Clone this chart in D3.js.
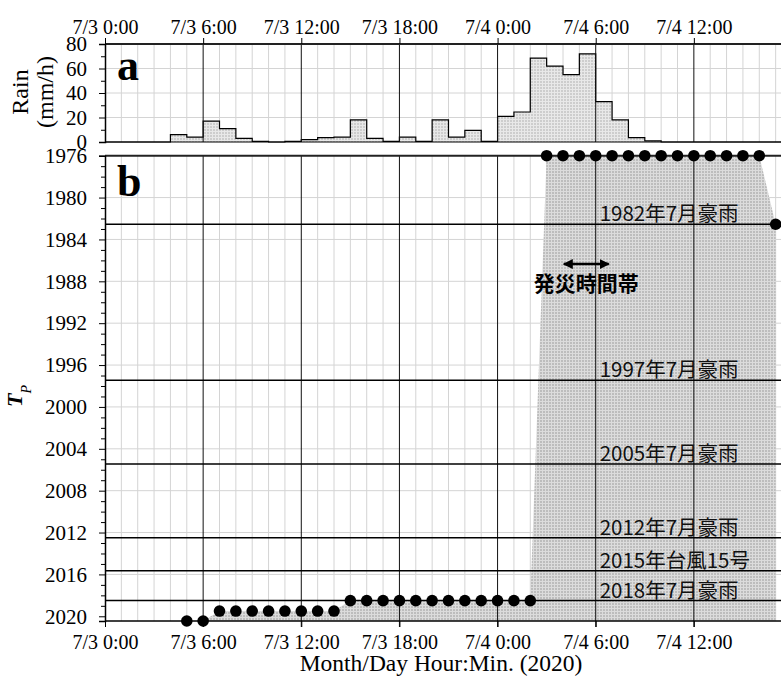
<!DOCTYPE html>
<html>
<head>
<meta charset="utf-8">
<script src="https://cdn.jsdelivr.net/npm/d3@7"></script>
<style>
  html, body { margin: 0; padding: 0; background: #fff; }
  svg { display: block; }
</style>
</head>
<body>
<svg id="chart" width="781" height="679"></svg>
<script>
// ---------------- data ----------------
const rainHours = [0,1,2,3,4,5,6,7,8,9,10,11,12,13,14,15,16,17,18,19,20,21,22,23,24,25,26,27,28,29,30,31,32,33,34,35,36,37,38,39,40,41];
const rainValues = [0,0,0,0,6,4,17,11,3,0.5,0,0.5,2,3.5,4,18,3,0.5,4,0.5,18,4,9.5,0.5,21,24.5,68.5,62,55,72,33,18,3.5,1,0,0,0,0,0,0,0,0];

const tpHours = [5,6,7,8,9,10,11,12,13,14,15,16,17,18,19,20,21,22,23,24,25,26,27,28,29,30,31,32,33,34,35,36,37,38,39,40,41];
const tpValues = [2020.45,2020.45,
  2019.5,2019.5,2019.5,2019.5,2019.5,2019.5,2019.5,2019.5,
  2018.5,2018.5,2018.5,2018.5,2018.5,2018.5,2018.5,2018.5,2018.5,2018.5,2018.5,2018.5,
  1976,1976,1976,1976,1976,1976,1976,1976,1976,1976,1976,1976,1976,1976,
  1982.55];

const timeTickHours = [0,6,12,18,24,30,36];
const timeTickLabels = ["7/3 0:00","7/3 6:00","7/3 12:00","7/3 18:00","7/4 0:00","7/4 6:00","7/4 12:00"];
const rainTicks = [0,20,40,60,80];
const rainMinorTicks = [10,30,50,70];
const yearTicks = [1976,1980,1984,1988,1992,1996,2000,2004,2008,2012,2016,2020];

const eventNames = ["1982年7月豪雨","1997年7月豪雨","2005年7月豪雨","2012年7月豪雨","2015年台風15号","2018年7月豪雨"];
const eventYears = [1982.55,1997.45,2005.45,2012.5,2015.65,2018.5];

const disasterLabel = "発災時間帯";
const disasterFrom = 28.05, disasterTo = 30.8, disasterYear = 1986.35;

// ---------------- layout ----------------
const svg = d3.select("#chart");
const serif = "'Liberation Serif','Times New Roman',serif";
const cjk = "'Noto Sans CJK JP','Noto Sans',sans-serif";
const L = 105, R = 792;
const aTop = 44, aBot = 142;
const bTop = 155.7, bBot = 621;

const x = d3.scaleLinear().domain([0, 42]).range([L, R]);
const yA = d3.scaleLinear().domain([0, 80]).range([aBot, aTop]);
const yB = d3.scaleLinear().domain([1976, 2020.45]).range([bTop, bBot]);

svg.append("rect").attr("width", 781).attr("height", 679).attr("fill", "#fff");

// pattern
const defs = svg.append("defs");
const pat = defs.append("pattern").attr("id", "dots").attr("width", 3).attr("height", 3)
  .attr("patternUnits", "userSpaceOnUse");
pat.append("rect").attr("width", 3).attr("height", 3).attr("fill", "#bdbdbd");
pat.append("rect").attr("x", 0).attr("y", 2).attr("width", 3).attr("height", 1).attr("fill", "#dcdcdc");
pat.append("rect").attr("x", 2).attr("y", 0).attr("width", 1).attr("height", 3).attr("fill", "#dcdcdc");

const patA = defs.append("pattern").attr("id", "dotsA").attr("width", 3).attr("height", 3)
  .attr("patternUnits", "userSpaceOnUse");
patA.append("rect").attr("width", 3).attr("height", 3).attr("fill", "#cdcdcd");
patA.append("rect").attr("x", 0).attr("y", 2).attr("width", 3).attr("height", 1).attr("fill", "#e8e8e8");
patA.append("rect").attr("x", 2).attr("y", 0).attr("width", 1).attr("height", 3).attr("fill", "#e8e8e8");

defs.append("marker").attr("id", "ah").attr("viewBox", "0 0 10 10").attr("refX", 9).attr("refY", 5)
  .attr("markerWidth", 4).attr("markerHeight", 4).attr("orient", "auto-start-reverse")
  .append("path").attr("d", "M0,0 L10,5 L0,10 z").attr("fill", "#000");

const hourGrid = d3.range(0, 43).filter(h => h % 6 !== 0);
const majorHours = d3.range(6, 43, 6);

function panelGrid(yTop, yBot, hGridVals, yScale) {
  const g = svg.append("g");
  g.selectAll("line.v").data(hourGrid).join("line")
    .attr("x1", d => x(d)).attr("x2", d => x(d)).attr("y1", yTop).attr("y2", yBot)
    .attr("stroke", "#d4d4d4").attr("stroke-width", 1);
  g.selectAll("line.h").data(hGridVals).join("line")
    .attr("x1", L).attr("x2", R).attr("y1", d => yScale(d)).attr("y2", d => yScale(d))
    .attr("stroke", "#d4d4d4").attr("stroke-width", 1);
}

// ---------------- panel a ----------------
panelGrid(aTop, aBot, [20, 40, 60], yA);

const rainPts = rainHours.map((h, i) => [h, rainValues[i]]);
rainPts.push([42, rainValues[rainValues.length - 1]]);
svg.append("path").datum(rainPts)
  .attr("d", d3.area().x(d => x(d[0])).y0(yA(0)).y1(d => yA(d[1])).curve(d3.curveStepAfter))
  .attr("fill", "url(#dotsA)");
svg.append("path").datum(rainPts)
  .attr("d", d3.line().x(d => x(d[0])).y(d => yA(d[1])).curve(d3.curveStepAfter))
  .attr("fill", "none").attr("stroke", "#000").attr("stroke-width", 1.2);

svg.append("g").selectAll("line").data(majorHours).join("line")
  .attr("x1", d => x(d)).attr("x2", d => x(d)).attr("y1", aTop).attr("y2", aBot)
  .attr("stroke", "#111").attr("stroke-width", 1);

svg.append("line").attr("x1", L).attr("x2", R).attr("y1", aTop).attr("y2", aTop)
  .attr("stroke", "#222").attr("stroke-width", 2);
svg.append("line").attr("x1", L).attr("x2", R).attr("y1", aBot).attr("y2", aBot)
  .attr("stroke", "#000").attr("stroke-width", 1.2);

// top axis
const topAxis = svg.append("g").attr("transform", `translate(0,${aTop})`)
  .call(d3.axisTop(x).tickValues(timeTickHours).tickFormat((d, i) => timeTickLabels[i]).tickSize(6).tickPadding(4));
topAxis.select(".domain").remove();
topAxis.attr("font-family", serif).attr("font-size", 20);
topAxis.selectAll("text").attr("font-family", serif).attr("font-size", 20).attr("fill", "#000");
topAxis.selectAll("line").attr("stroke", "#000");

// left axis a
const axA = svg.append("g").attr("transform", `translate(${L},0)`)
  .call(d3.axisLeft(yA).tickValues(rainTicks).tickSize(6).tickPadding(12));
axA.attr("font-family", serif).attr("font-size", 21);
axA.select(".domain").attr("stroke-width", 1.5);
axA.selectAll("text").attr("font-family", serif).attr("font-size", 21).attr("fill", "#000");
const axAm = svg.append("g").attr("transform", `translate(${L},0)`)
  .call(d3.axisLeft(yA).tickValues(rainMinorTicks).tickSize(4).tickFormat(""));
axAm.select(".domain").remove();

svg.append("text").attr("x", 117).attr("y", 80).text("a")
  .attr("font-family", serif).attr("font-weight", "bold").attr("font-size", 44);

svg.append("text").attr("transform", "translate(28,92) rotate(-90)").attr("text-anchor", "middle")
  .attr("font-family", serif).attr("font-size", 24).text("Rain");
svg.append("text").attr("transform", "translate(53,92) rotate(-90)").attr("text-anchor", "middle")
  .attr("font-family", serif).attr("font-size", 24).text("(mm/h)");

// ---------------- panel b ----------------
panelGrid(bTop, bBot, yearTicks.filter(d => d !== 1976 && d !== 2020), yB);

const tpPts = tpHours.map((h, i) => [h, tpValues[i]]);
svg.append("path").datum(tpPts)
  .attr("d", d3.area().x(d => x(d[0])).y0(yB(2020.45)).y1(d => yB(d[1])))
  .attr("fill", "url(#dots)");

svg.append("g").selectAll("line").data(majorHours).join("line")
  .attr("x1", d => x(d)).attr("x2", d => x(d)).attr("y1", bTop).attr("y2", bBot + 6)
  .attr("stroke", "#111").attr("stroke-width", 1);

// event lines
svg.append("g").selectAll("line").data(eventYears).join("line")
  .attr("x1", L).attr("x2", R).attr("y1", d => yB(d)).attr("y2", d => yB(d))
  .attr("stroke", "#000").attr("stroke-width", 1.5);
svg.append("g").selectAll("text").data(eventNames).join("text")
  .attr("x", x(30) + 4).attr("y", (d, i) => yB(eventYears[i]) - 3)
  .attr("font-family", cjk).attr("font-size", 20.5).attr("fill", "#111").text(d => d);

// borders
svg.append("line").attr("x1", L).attr("x2", R).attr("y1", bTop).attr("y2", bTop)
  .attr("stroke", "#222").attr("stroke-width", 2);
svg.append("line").attr("x1", L).attr("x2", R).attr("y1", bBot).attr("y2", bBot)
  .attr("stroke", "#000").attr("stroke-width", 1.5);

// disaster arrow
svg.append("line").attr("x1", x(disasterFrom)).attr("x2", x(disasterTo))
  .attr("y1", yB(disasterYear)).attr("y2", yB(disasterYear))
  .attr("stroke", "#000").attr("stroke-width", 2.5)
  .attr("marker-start", "url(#ah)").attr("marker-end", "url(#ah)");
svg.append("text").attr("x", (x(disasterFrom) + x(disasterTo)) / 2).attr("y", yB(disasterYear) + 27)
  .attr("text-anchor", "middle").attr("font-family", cjk).attr("font-weight", "bold")
  .attr("font-size", 21).text(disasterLabel);

// dots
svg.append("g").selectAll("circle").data(tpPts).join("circle")
  .attr("cx", d => x(d[0])).attr("cy", d => yB(d[1])).attr("r", 5.8).attr("fill", "#000");

// bottom axis
const botAxis = svg.append("g").attr("transform", `translate(0,${bBot})`)
  .call(d3.axisBottom(x).tickValues(timeTickHours).tickFormat((d, i) => timeTickLabels[i]).tickSize(6).tickPadding(8));
botAxis.select(".domain").remove();
botAxis.attr("font-family", serif).attr("font-size", 20);
botAxis.selectAll("text").attr("font-family", serif).attr("font-size", 20).attr("fill", "#000");

// left axis b
const axB = svg.append("g").attr("transform", `translate(${L},0)`)
  .call(d3.axisLeft(yB).tickValues(yearTicks).tickSize(6).tickPadding(12).tickFormat(d3.format("d")));
axB.attr("font-family", serif).attr("font-size", 21);
axB.select(".domain").attr("stroke-width", 1.5);
axB.selectAll("text").attr("font-family", serif).attr("font-size", 21).attr("fill", "#000");
const axBm = svg.append("g").attr("transform", `translate(${L},0)`)
  .call(d3.axisLeft(yB).tickValues(d3.range(1977, 2021).filter(d => d % 4 !== 0)).tickSize(4).tickFormat(""));
axBm.select(".domain").remove();

svg.append("text").attr("x", 117).attr("y", 196).text("b")
  .attr("font-family", serif).attr("font-weight", "bold").attr("font-size", 44);

const tp = svg.append("text").attr("transform", "translate(22,407) rotate(-90)")
  .attr("font-family", serif).attr("font-style", "italic");
tp.append("tspan").attr("font-weight", "bold").attr("font-size", 22).text("T");
tp.append("tspan").attr("font-size", 14).attr("dy", 9).text("P");

svg.append("text").attr("x", 441).attr("y", 671).attr("text-anchor", "middle")
  .attr("font-family", serif).attr("font-size", 23.5).text("Month/Day Hour:Min. (2020)");
</script>
</body>
</html>
